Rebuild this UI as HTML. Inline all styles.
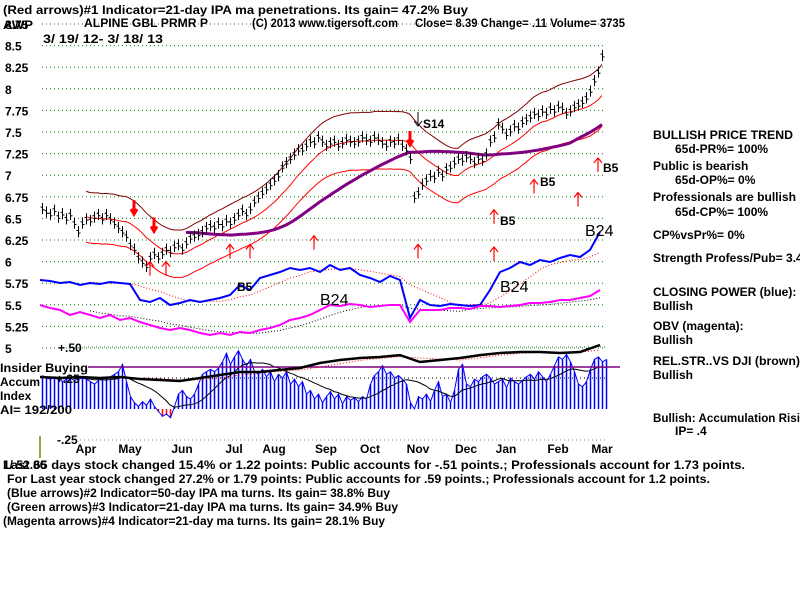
<!DOCTYPE html>
<html><head><meta charset="utf-8">
<style>
html,body{margin:0;padding:0;background:#fff;}
svg{display:block;font-family:"Liberation Sans",Arial,sans-serif;}
.t{font-size:12px;font-weight:bold;fill:#000;}
</style></head>
<body>
<svg id="chart" width="800" height="600" viewBox="0 0 800 600">
<rect x="0" y="0" width="800" height="600" fill="#fff"/>
<g id="grid"></g>
<g id="ylabels"></g>
<g id="bands"></g>
<g id="bars"></g>
<g id="cp"></g>
<g id="ai"></g>
<g id="arrows"></g>

<text class="t" x="3" y="14" textLength="465" lengthAdjust="spacingAndGlyphs">(Red arrows)#1 Indicator=21-day IPA ma penetrations. Its gain= 47.2% Buy</text>
<text class="t" x="3" y="29" textLength="30" lengthAdjust="spacingAndGlyphs">AWP</text>
<text class="t" x="84" y="27" textLength="124" lengthAdjust="spacingAndGlyphs">ALPINE GBL PRMR P</text>
<text class="t" x="252" y="27" textLength="146" lengthAdjust="spacingAndGlyphs">(C) 2013 www.tigersoft.com</text>
<text class="t" x="415" y="27" textLength="210" lengthAdjust="spacingAndGlyphs">Close=  8.39  Change= .11 Volume= 3735</text>
<text class="t" x="43" y="43" textLength="120" lengthAdjust="spacingAndGlyphs">3/ 19/ 12- 3/ 18/ 13</text>

<g>
<text class="t" x="653" y="139" textLength="140" lengthAdjust="spacingAndGlyphs">BULLISH PRICE TREND</text>
<text class="t" x="675" y="153">65d-PR%= 100%</text>
<text class="t" x="653" y="170">Public is bearish</text>
<text class="t" x="675" y="184">65d-OP%= 0%</text>
<text class="t" x="653" y="201" textLength="143" lengthAdjust="spacingAndGlyphs">Professionals are bullish</text>
<text class="t" x="675" y="216">65d-CP%= 100%</text>
<text class="t" x="653" y="239">CP%vsPr%=  0%</text>
<text class="t" x="653" y="262">Strength Profess/Pub= 3.4</text>
<text class="t" x="653" y="296">CLOSING POWER (blue):</text>
<text class="t" x="653" y="310">Bullish</text>
<text class="t" x="653" y="330">OBV (magenta):</text>
<text class="t" x="653" y="344">Bullish</text>
<text class="t" x="653" y="365" textLength="147" lengthAdjust="spacingAndGlyphs">REL.STR..VS DJI (brown)</text>
<text class="t" x="653" y="379">Bullish</text>
<text class="t" x="653" y="422" textLength="147" lengthAdjust="spacingAndGlyphs">Bullish: Accumulation Risi</text>
<text class="t" x="675" y="435">IP=  .4</text>
</g>

<g>
<text class="t" x="58" y="352">+.50</text>
<text class="t" x="0" y="372" textLength="88" lengthAdjust="spacingAndGlyphs">Insider Buying</text>
<text class="t" x="56" y="383">+.25</text>
<text class="t" x="0" y="386">Accum</text>
<text class="t" x="0" y="400">Index</text>
<text class="t" x="0" y="414" textLength="72" lengthAdjust="spacingAndGlyphs">AI= 192/200</text>
<text class="t" x="57" y="444">-.25</text>
<line x1="40" y1="436" x2="40" y2="458" stroke="#808000" stroke-width="1.5"/>
</g>
<g id="months"></g>

<g>
<text class="t" x="3" y="469">1/ 52.86</text>
<text class="t" x="3" y="469" textLength="742" lengthAdjust="spacingAndGlyphs">Last 65 days stock changed  15.4% or  1.22 points:  Public accounts for -.51 points.;  Professionals account for  1.73 points.</text>
<text class="t" x="7" y="483" textLength="703" lengthAdjust="spacingAndGlyphs">For Last year stock changed  27.2% or  1.79 points:  Public accounts for  .59 points.;  Professionals account for  1.2 points.</text>
<text class="t" x="7" y="497" textLength="383" lengthAdjust="spacingAndGlyphs">(Blue arrows)#2 Indicator=50-day IPA ma turns. Its gain= 38.8% Buy</text>
<text class="t" x="7" y="511" textLength="391" lengthAdjust="spacingAndGlyphs">(Green arrows)#3 Indicator=21-day IPA ma turns. Its gain= 34.9% Buy</text>
<text class="t" x="3" y="525" textLength="382" lengthAdjust="spacingAndGlyphs">(Magenta arrows)#4 Indicator=21-day ma turns. Its gain= 28.1% Buy</text>
</g>
</svg>
<script>
const priceTicks=["8.75","8.5","8.25","8","7.75","7.5","7.25","7","6.75","6.5","6.25","6","5.75","5.5","5.25","5"];
const priceTickValues=[8.75,8.5,8.25,8,7.75,7.5,7.25,7,6.75,6.5,6.25,6,5.75,5.5,5.25,5];
const months=["Apr","May","Jun","Jul","Aug","Sep","Oct","Nov","Dec","Jan","Feb","Mar"];
const monthBarIndex=[11,22,35,48,58,71,82,94,106,116,129,140];
const closes=[6.62,6.58,6.55,6.6,6.52,6.56,6.5,6.55,6.45,6.35,6.45,6.5,6.48,6.52,6.55,6.5,6.55,6.5,6.45,
6.4,6.35,6.3,6.2,6.15,6.05,6.0,5.95,6.05,6.1,
6.05,6.1,6.15,6.12,6.18,6.2,6.15,6.22,6.28,6.3,
6.32,6.35,6.4,6.42,6.4,6.45,6.42,6.48,6.45,6.5,
6.55,6.6,6.55,6.62,6.7,6.75,6.8,6.85,6.9,6.95,
7.0,7.1,7.15,7.2,7.25,7.3,7.3,7.35,7.4,7.38,
7.45,7.4,7.35,7.38,7.4,7.35,7.38,7.42,7.4,7.38,
7.4,7.45,7.42,7.4,7.45,7.42,7.38,7.35,7.4,7.38,
7.42,7.35,7.3,7.2,6.75,6.8,6.9,6.95,7.0,6.98,
7.05,7.0,7.08,7.1,7.15,7.2,7.18,7.22,7.2,7.15,
7.2,7.18,7.25,7.4,7.45,7.6,7.55,7.48,7.52,7.58,
7.55,7.62,7.65,7.68,7.72,7.7,7.75,7.72,7.78,7.75,
7.8,7.78,7.72,7.75,7.8,7.82,7.85,7.9,7.98,8.1,8.2,8.39];
const closingPower=[70,69,67,68,65,67,66,68,67,66,50,48,52,45,47,50,48,50,52,55,65,60,72,75,78,82,80,82,78,85,80,82,75,72,68,74,70,32,50,45,44,46,45,44,45,60,78,82,88,85,90,88,92,95,93,100,118];
const obv=[45,42,40,35,38,35,32,35,30,32,28,25,22,20,22,20,17,15,17,15,18,17,20,22,25,30,32,35,40,45,44,46,45,43,44,45,45,28,40,40,40,42,42,41,44,44,43,44,45,47,47,48,50,50,52,54,60];
const accum=[0.27,0.25,0.24,0.26,0.25,0.22,0.24,0.25,0.23,0.24,0.25,
0.24,0.22,0.2,0.23,0.25,0.24,0.26,0.28,0.3,0.36,
0.22,0.1,0.05,0.02,0.06,0.03,0.08,0.02,-0.02,-0.06,
-0.04,-0.07,0.02,0.12,0.15,0.1,0.08,0.12,0.2,0.28,
0.3,0.32,0.3,0.33,0.38,0.45,0.36,0.42,0.47,0.4,
0.35,0.4,0.3,0.28,0.32,0.26,0.3,0.22,0.28,0.25,
0.3,0.2,0.24,0.18,0.22,0.12,0.15,0.08,0.12,0.05,
0.1,0.14,0.08,0.12,0.04,0.1,0.07,0.09,0.06,0.1,
0.08,0.2,0.27,0.3,0.35,0.28,0.3,0.25,0.27,0.24,
0.2,0.05,0.0,0.1,0.08,0.12,0.06,0.15,0.22,0.1,
0.12,0.05,0.15,0.32,0.36,0.2,0.18,0.24,0.22,0.26,
0.28,0.25,0.2,0.22,0.24,0.17,0.25,0.22,0.2,0.23,
0.26,0.28,0.24,0.3,0.26,0.22,0.28,0.35,0.42,0.4,
0.44,0.38,0.3,0.2,0.18,0.22,0.32,0.4,0.42,0.38,0.4];
const relStrength=[0.258,0.25,0.258,0.25,0.258,0.242,0.234,0.226,0.25,0.274,0.298,0.298,0.315,0.331,0.371,0.395,0.411,0.419,0.435,0.379,0.395,0.411,0.435,0.452,0.46,0.46,0.452,0.46,0.516];
const upArrows=[[27,6.0],[31,6.0],[47,6.2],[52,6.2],[68,6.3],[94,6.2],[113,6.6],[113,6.17],[123,6.95],[134,6.8],[139,7.2]];
const downArrows=[[23,6.55],[28,6.35],[92,7.35]];
const labels=[["B5",237,291,12,"bold"],["B5",540,186,12,"bold"],["B5",500,225,12,"bold"],["B5",603,172,12,"bold"],["S14",423,128,12,"bold"],["B24",320,305,16,"normal"],["B24",500,292,16,"normal"],["B24",585,236,16,"normal"]];

const NS="http://www.w3.org/2000/svg";
function xB(i){return 42+i*4;}
function xS(j){return 40+j*10;}
function xR(k){return 40+k*20;}
function yP(p){return 348-(p-5)*86.4;}
function yC(c){return 350-c;}
function yA(v){return 409-v*124;}
function mk(parent,tag,attrs){const e=document.createElementNS(NS,tag);for(const k in attrs)e.setAttribute(k,attrs[k]);parent.appendChild(e);return e;}
function ma(arr,n){return arr.map((v,i)=>{if(i<n-1)return null;let s=0;for(let k=i-n+1;k<=i;k++)s+=arr[k];return s/n;});}
function maLong(arr,n,start){return arr.map((v,i)=>{if(i<start)return null;const a=Math.max(0,i-n+1);let s=0;for(let k=a;k<=i;k++)s+=arr[k];return s/(i-a+1);});}
function pathFrom(arr,fx,fy){let d="";arr.forEach((v,i)=>{if(v===null)return;d+=(d?"L":"M")+fx(i).toFixed(1)+" "+fy(v).toFixed(1);});return d;}

const grid=document.getElementById('grid'),yl=document.getElementById('ylabels');
priceTickValues.forEach((v,i)=>{
  const g=mk(grid,'line',{x1:42,x2:606,y1:yP(v),y2:yP(v),stroke:'#008000','stroke-dasharray':'1 3','stroke-width':1});
  
  
  const t=mk(yl,'text',{x:5,y:yP(v)+5,class:'t','font-size':13});
  t.textContent=priceTicks[i];
  
  
});
[[0.5,'#008000'],[0.25,'#000'],[-0.25,'#888']].forEach(a=>{
  const g=mk(grid,'line',{x1:80,x2:606,y1:yA(a[0]),y2:yA(a[0]),stroke:a[1],'stroke-dasharray':'1 3'});
  
  
});

const bands=document.getElementById('bands');
const m21=ma(closes,12), m50=maLong(closes,40,36);
let p=mk(bands,'path',{d:pathFrom(m21.map(v=>v===null?null:v*1.045),xB,yP),fill:'none',stroke:'#800000','stroke-width':1});


p=mk(bands,'path',{d:pathFrom(m21,xB,yP),fill:'none',stroke:'#ff0000','stroke-width':1});


p=mk(bands,'path',{d:pathFrom(m21.map(v=>v===null?null:v*0.955),xB,yP),fill:'none',stroke:'#ff0000','stroke-width':1});


p=mk(bands,'path',{d:pathFrom(m50,xB,yP),fill:'none',stroke:'#800080','stroke-width':3});



const bars=document.getElementById('bars');
closes.forEach((c,i)=>{
  const x=xB(i)+0.5;
  const b=mk(bars,'path',{d:`M${x} ${yP(c+0.06)}V${yP(c-0.07)}M${x-2} ${yP(c+0.01)}H${x}M${x} ${yP(c-0.02)}H${x+2}`,stroke:'#000','stroke-width':1,fill:'none'});
  
  
});

const cpg=document.getElementById('cp');
p=mk(cpg,'path',{d:pathFrom(ma(closingPower,6),xS,yC),fill:'none',stroke:'#ff0000','stroke-dasharray':'1 2'});


p=mk(cpg,'path',{d:pathFrom(closingPower,xS,yC),fill:'none',stroke:'#0000ff','stroke-width':2});


p=mk(cpg,'path',{d:pathFrom(ma(obv,6),xS,yC),fill:'none',stroke:'#000','stroke-dasharray':'1 2'});


p=mk(cpg,'path',{d:pathFrom(obv,xS,yC),fill:'none',stroke:'#ff00ff','stroke-width':2});



const aig=document.getElementById('ai');
accum.forEach((v,i)=>{
  const x=xB(i)+0.5;
  const l=mk(aig,'line',{x1:x,x2:x,y1:yA(0),y2:yA(v),stroke:v<0?'#ff0000':'#0000ff','stroke-width':1.5});
  
  
});
p=mk(aig,'path',{d:pathFrom(accum,i=>xB(i)+0.5,yA),fill:'none',stroke:'#0000ff','stroke-width':1});


p=mk(aig,'path',{d:pathFrom(ma(accum,12),xB,yA),fill:'none',stroke:'#000','stroke-width':1});


let l=mk(aig,'line',{x1:88,x2:620,y1:367,y2:367,stroke:'#800080','stroke-width':1.5});


p=mk(aig,'path',{d:pathFrom(ma(relStrength,3),xR,yA),fill:'none',stroke:'#ff0000','stroke-dasharray':'1 2'});


p=mk(aig,'path',{d:pathFrom(relStrength,xR,yA),fill:'none',stroke:'#000','stroke-width':2.5});



const mg=document.getElementById('months');
months.forEach((m,i)=>{
  const t=mk(mg,'text',{x:xB(monthBarIndex[i]),y:453,class:'t','font-size':13,'text-anchor':'middle'});
  t.textContent=m;
  
  
});

const ag=document.getElementById('arrows');
upArrows.forEach(a=>{
  const x=xB(a[0]),y=yP(a[1]);
  const e=mk(ag,'path',{d:`M${x} ${y+14}V${y}M${x-4} ${y+5}L${x} ${y}L${x+4} ${y+5}`,stroke:'#ff0000','stroke-width':1.2,fill:'none'});
  
  
});
downArrows.forEach(a=>{
  const x=xB(a[0]),y=yP(a[1]);
  const e=mk(ag,'path',{d:`M${x} ${y-14}V${y}M${x-3} ${y-5}L${x} ${y}L${x+3} ${y-5}`,stroke:'#ff0000','stroke-width':3,fill:'none'});
  
  
});
const s14=mk(ag,'path',{d:'M418 112V126M414 121L418 126L422 121',stroke:'#000',fill:'none'});


labels.forEach(a=>{
  const t=mk(ag,'text',{x:a[1],y:a[2],'font-size':a[3],'font-weight':a[4],fill:'#000'});
  t.textContent=a[0];
  
  
});
</script>
</body></html>
